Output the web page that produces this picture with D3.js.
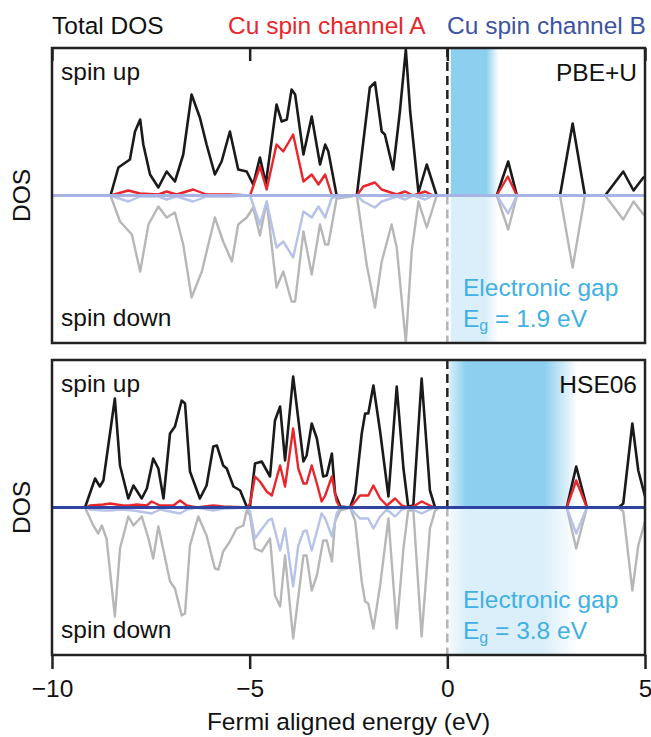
<!DOCTYPE html>
<html>
<head>
<meta charset="utf-8">
<script src="https://cdnjs.cloudflare.com/ajax/libs/d3/7.8.5/d3.min.js"></script>
<style>
body { margin: 0; background: #fff; }
svg text { font-family: "Liberation Sans", Arial, sans-serif; font-size: 24.5px; fill: #111; }
</style>
</head>
<body>
<svg id="chart" width="651" height="737"></svg>
<script>
// energy axis + labels
const energyTicks = [-10, -5, 0, 5]
const legendLabels = ["Total DOS", "Cu spin channel A", "Cu spin channel B"]
const methods = ["PBE+U", "HSE06"]
const gapValues = ["1.9", "3.8"]
const gapBands = [[0.08, 1.3], [0.05, 3.3]]

// PBE+U, [energy (eV), DOS]
const totUp1 = [[-10,0],[-8.52,0],[-8.32,2.8],[-8.03,3.6],[-7.90,6.4],[-7.77,7.6],[-7.69,5.1],[-7.52,2.1],[-7.31,0.8],[-7.10,2.4],[-6.89,1.4],[-6.68,4.1],[-6.47,10.1],[-6.26,7.8],[-6.09,5.1],[-5.88,2.1],[-5.71,3.4],[-5.50,6.4],[-5.29,2.6],[-5.075,2.4],[-4.91,1.1],[-4.74,3.8],[-4.59,1.2],[-4.32,9.1],[-4.19,7.4],[-4.06,7.6],[-3.94,10.6],[-3.85,10.1],[-3.64,4.1],[-3.43,7.9],[-3.22,3.1],[-3.09,5.1],[-3.01,4.4],[-2.80,0],[-2.29,0],[-1.96,10.8],[-1.83,11.3],[-1.66,6.4],[-1.58,6.1],[-1.37,2.6],[-1.20,8.4],[-1.05,14.6],[-0.94,8.4],[-0.73,0.3],[-0.52,3.1],[-0.27,0],[1.25,0],[1.54,3.4],[1.76,0],[2.85,0],[3.17,7.2],[3.48,0],[3.99,0],[4.45,2.4],[4.71,0.5],[4.96,1.8],[5,1.9]]
const cuA1 = [[-10,0],[-8.52,0],[-8.07,0.5],[-7.77,0.2],[-7.31,0.1],[-7.10,0.4],[-6.85,0.1],[-6.43,0.6],[-6.09,0.1],[-5.50,0.1],[-4.99,0],[-4.74,2.9],[-4.57,0.6],[-4.32,5.1],[-4.15,4.4],[-3.90,6.1],[-3.64,1.4],[-3.43,2.1],[-3.26,1.1],[-3.09,2.1],[-2.92,0],[-2.29,0],[-2.125,0.9],[-1.83,1.3],[-1.66,0.6],[-1.28,0.1],[-1.07,0.4],[-0.86,0],[-0.56,0.4],[-0.36,0],[1.25,0],[1.53,1.9],[1.76,0],[5,0]]
const totDn1 = [[-10,0],[-8.52,0],[-8.28,-2.6],[-7.98,-3.9],[-7.77,-7.6],[-7.56,-2.9],[-7.31,-1.1],[-7.10,-2.2],[-6.89,-1.7],[-6.68,-4.9],[-6.47,-10.2],[-6.21,-7.6],[-5.88,-2.2],[-5.67,-4.6],[-5.45,-6.6],[-5.29,-2.9],[-5.075,-2.2],[-4.91,-1.2],[-4.74,-4.0],[-4.57,-0.6],[-4.32,-9.2],[-4.15,-7.6],[-3.94,-10.6],[-3.85,-10.6],[-3.64,-3.6],[-3.43,-7.9],[-3.22,-2.9],[-3.09,-4.9],[-3.01,-4.9],[-2.80,-0.3],[-2.29,0],[-2.04,-6.9],[-1.83,-11.2],[-1.66,-6.6],[-1.41,-2.9],[-1.28,-5.2],[-1.05,-14.7],[-0.90,-5.5],[-0.73,-0.6],[-0.52,-3.2],[-0.27,0],[1.25,0],[1.54,-3.4],[1.76,0],[2.85,0],[3.17,-7.2],[3.48,0],[3.99,0],[4.45,-2.4],[4.71,-0.6],[4.96,-1.9],[5,-1.9]]
const cuB1 = [[-10,0],[-8.52,0],[-8.07,-0.6],[-7.77,-0.1],[-7.31,-0.1],[-7.10,-0.4],[-6.85,-0.1],[-6.43,-0.6],[-6.09,-0.1],[-5.50,-0.1],[-4.99,0],[-4.74,-2.9],[-4.57,-0.6],[-4.32,-5.2],[-4.15,-4.6],[-3.90,-6.2],[-3.64,-1.6],[-3.43,-2.2],[-3.26,-1.1],[-3.09,-2.2],[-2.92,-0.2],[-2.29,0],[-2.125,-0.6],[-1.83,-1.2],[-1.66,-0.6],[-1.28,-0.1],[-1.07,-0.4],[-0.86,0],[-0.56,-0.4],[-0.36,0],[1.25,0],[1.54,-1.8],[1.76,0],[5,0]]

// HSE06
const totUp2 = [[-10,0],[-9.165,0],[-8.91,2.9],[-8.79,2.1],[-8.70,2.7],[-8.41,10.9],[-8.28,4.2],[-8.07,0.9],[-7.94,2.2],[-7.73,0.9],[-7.60,1.9],[-7.44,4.9],[-7.31,3.9],[-7.18,0.9],[-7.015,7.4],[-6.89,8.1],[-6.72,10.7],[-6.635,10.4],[-6.51,3.6],[-6.26,0.9],[-6.09,2.2],[-5.92,6.1],[-5.83,6.2],[-5.67,4.2],[-5.58,3.9],[-5.41,2.1],[-5.24,1.7],[-5.075,0.1],[-4.99,0.2],[-4.865,4.4],[-4.695,4.6],[-4.485,3.1],[-4.36,8.7],[-4.23,10.1],[-4.105,4.7],[-3.90,13.1],[-3.64,4.6],[-3.56,5.2],[-3.43,8.4],[-3.30,6.9],[-3.14,3.1],[-3.05,3.2],[-2.92,5.4],[-2.84,1.4],[-2.71,0.1],[-2.46,0],[-2.33,1.4],[-2.165,7.4],[-2.08,9.4],[-2.00,9.4],[-1.87,12.2],[-1.70,7.6],[-1.49,1.1],[-1.28,12.1],[-1.11,3.9],[-0.99,0.1],[-0.86,0.2],[-0.65,12.9],[-0.44,1.7],[-0.31,0],[3.02,0],[3.26,4.1],[3.53,0],[4.33,0],[4.45,0.4],[4.68,8.4],[4.83,3.7],[5,1.1]]
const cuA2 = [[-10,0],[-9.165,0],[-9.04,0.2],[-8.70,0.3],[-8.53,0.4],[-8.20,0.2],[-8.03,0.2],[-7.86,0.3],[-7.60,0.2],[-7.48,0.6],[-7.27,0.2],[-6.93,0.2],[-6.76,0.7],[-6.59,0.2],[-6.34,0],[-5.92,0.2],[-5.67,0.1],[-5.075,0],[-4.99,0.4],[-4.865,3.1],[-4.74,2.6],[-4.57,1.6],[-4.44,1.2],[-4.23,4.2],[-4.105,2.1],[-3.90,7.9],[-3.77,3.9],[-3.64,2.4],[-3.56,2.4],[-3.43,4.2],[-3.30,2.4],[-3.18,0.6],[-3.09,1.2],[-2.92,3.1],[-2.80,0.6],[-2.71,0],[-2.46,0],[-2.33,0.6],[-2.21,1.2],[-2.00,1.2],[-1.87,2.2],[-1.70,0.9],[-1.53,0.2],[-1.32,0.9],[-1.15,0.2],[-0.99,0],[-0.86,0.1],[-0.65,0.6],[-0.44,0.2],[-0.31,0],[3.02,0],[3.26,2.7],[3.53,0],[5,0]]
const totDn2 = [[-10,0],[-9.165,0],[-8.955,-1.8],[-8.83,-2.6],[-8.74,-1.8],[-8.62,-3.1],[-8.41,-10.9],[-8.28,-4.1],[-8.07,-0.9],[-7.94,-1.8],[-7.73,-0.9],[-7.56,-3.1],[-7.44,-5.1],[-7.31,-1.9],[-7.18,-4.3],[-7.015,-7.4],[-6.89,-8.1],[-6.72,-10.8],[-6.635,-10.6],[-6.51,-3.8],[-6.30,-0.9],[-6.09,-2.8],[-5.88,-6.1],[-5.79,-6.2],[-5.67,-4.4],[-5.50,-3.4],[-5.33,-2.1],[-5.16,-1.8],[-5.075,-0.3],[-4.99,-0.8],[-4.865,-4.1],[-4.695,-4.4],[-4.485,-3.1],[-4.36,-8.8],[-4.23,-9.9],[-4.105,-4.8],[-3.90,-13.1],[-3.64,-4.8],[-3.56,-4.8],[-3.43,-8.3],[-3.30,-6.8],[-3.14,-3.3],[-3.05,-3.3],[-2.92,-5.4],[-2.84,-1.4],[-2.71,-0.3],[-2.46,0],[-2.33,-1.4],[-2.165,-7.4],[-2.08,-9.4],[-2.00,-9.6],[-1.87,-12.1],[-1.70,-7.8],[-1.49,-1.1],[-1.28,-12.1],[-1.11,-4.1],[-0.99,-0.3],[-0.86,-0.3],[-0.65,-12.9],[-0.44,-2.1],[-0.31,-0.3],[-0.2,0],[3.02,0],[3.26,-4.1],[3.53,0],[4.33,0],[4.45,-0.4],[4.68,-8.3],[4.83,-3.8],[5,-1.4]]
const cuB2 = [[-10,0],[-9.165,0],[-9.04,-0.2],[-8.70,-0.3],[-8.53,-0.3],[-8.28,-0.2],[-7.94,-0.3],[-7.48,-0.6],[-7.27,-0.2],[-6.76,-0.6],[-6.59,-0.2],[-6.34,0],[-5.92,-0.3],[-5.67,-0.1],[-5.075,0],[-4.99,-0.4],[-4.865,-3.1],[-4.74,-2.4],[-4.53,-1.3],[-4.44,-1.1],[-4.23,-4.3],[-4.105,-2.1],[-3.90,-7.9],[-3.77,-3.8],[-3.64,-2.4],[-3.56,-2.3],[-3.43,-4.3],[-3.30,-2.4],[-3.18,-0.6],[-3.09,-1.1],[-2.92,-2.9],[-2.80,-0.6],[-2.71,0],[-2.46,0],[-2.33,-0.6],[-2.21,-1.1],[-2.00,-1.1],[-1.87,-2.1],[-1.70,-0.9],[-1.53,-0.2],[-1.32,-0.9],[-1.15,-0.2],[-0.99,0],[-0.65,-0.6],[-0.44,-0.2],[-0.31,0],[3.02,0],[3.26,-2.6],[3.53,0],[5,0]]

const panels = [
    {method: methods[0], gap: gapValues[0], band: gapBands[0], up: totUp1, a: cuA1, dn: totDn1, b: cuB1, base: "#a7b3e2", fadeIn: 0.02},
    {method: methods[1], gap: gapValues[1], band: gapBands[1], up: totUp2, a: cuA2, dn: totDn2, b: cuB2, base: "#2f44a0", fadeIn: 0.13}
]

const left = 52, right = 645, h = 295
const tops = [48, 360]
const svg = d3.select("#chart")
const defs = svg.append("defs")

const xscale = d3.scaleLinear().domain([-10, 5]).range([left, right])

// legend
const legendX = [52, 228, 447]
const legendColors = ["#111", "#e8262b", "#3c53a4"]
svg.selectAll("text.legend")
    .data(legendLabels)
    .join("text")
    .attr("class", "legend")
    .attr("x", (d, i) => legendX[i])
    .attr("y", 34)
    .style("fill", (d, i) => legendColors[i])
    .text(d => d)

const makeGradient = (id, color, fadeIn) => {
    let g = defs.append("linearGradient").attr("id", id)
    g.append("stop").attr("offset", 0).attr("stop-color", color).attr("stop-opacity", 0.35)
    g.append("stop").attr("offset", fadeIn).attr("stop-color", color).attr("stop-opacity", 1)
    g.append("stop").attr("offset", 0.74).attr("stop-color", color).attr("stop-opacity", 1)
    g.append("stop").attr("offset", 1).attr("stop-color", color).attr("stop-opacity", 0)
}

panels.forEach((p, i) => {
    let top = tops[i]
    let yscale = d3.scaleLinear().domain([-14.75, 14.75]).range([top + h, top])
    let g = svg.append("g")

    defs.append("clipPath").attr("id", `clip${i}`)
        .append("rect").attr("x", left).attr("y", top).attr("width", right - left).attr("height", h)

    makeGradient(`gapUp${i}`, "#8dcfee", p.fadeIn)
    makeGradient(`gapDn${i}`, "#dbeffa", p.fadeIn)

    // gap shading
    g.append("rect")
        .attr("x", xscale(p.band[0])).attr("width", xscale(p.band[1]) - xscale(p.band[0]))
        .attr("y", top).attr("height", yscale(0) - top)
        .attr("fill", `url(#gapUp${i})`)
    g.append("rect")
        .attr("x", xscale(p.band[0])).attr("width", xscale(p.band[1]) - xscale(p.band[0]))
        .attr("y", yscale(0)).attr("height", top + h - yscale(0))
        .attr("fill", `url(#gapDn${i})`)

    // fermi level
    g.append("line")
        .attr("x1", xscale(0)).attr("x2", xscale(0))
        .attr("y1", top).attr("y2", yscale(0))
        .attr("stroke", "#222").attr("stroke-width", 2.5).attr("stroke-dasharray", "9,5")
    g.append("line")
        .attr("x1", xscale(0)).attr("x2", xscale(0))
        .attr("y1", yscale(0)).attr("y2", top + h)
        .attr("stroke", "#b5b5b5").attr("stroke-width", 2.5).attr("stroke-dasharray", "9,5")

    let line = d3.line().x(d => xscale(d[0])).y(d => yscale(d[1]))
    let curves = g.append("g").attr("clip-path", `url(#clip${i})`)
    let series = [[p.dn, "#b7b7b7", 2.4], [p.b, "#b6c2e8", 2.4], [p.up, "#1a1a1a", 2.6], [p.a, "#e8262b", 2.4]]
    series.forEach(s => {
        curves.append("path")
            .datum(s[0])
            .attr("d", line)
            .attr("fill", "none")
            .attr("stroke", s[1])
            .attr("stroke-width", s[2])
            .attr("stroke-linejoin", "round")
    })

    curves.append("line")
        .attr("x1", left).attr("x2", right)
        .attr("y1", yscale(0)).attr("y2", yscale(0))
        .attr("stroke", p.base).attr("stroke-width", 2.8)

    // frame
    g.append("rect")
        .attr("x", left).attr("y", top).attr("width", right - left).attr("height", h)
        .attr("fill", "none").attr("stroke", "#222").attr("stroke-width", 2.5)

    // labels
    g.append("text").attr("x", 61).attr("y", top + 32).text("spin up")
    g.append("text").attr("x", 61).attr("y", top + 278).text("spin down")
    g.append("text").attr("x", 637).attr("y", top + 33).attr("text-anchor", "end").text(p.method)
    g.append("text").attr("x", 463).attr("y", top + 248).style("fill", "#41b0e4").text("Electronic gap")
    let eg = g.append("text").attr("x", 463).attr("y", top + 279).style("fill", "#41b0e4")
    eg.append("tspan").text("E")
    eg.append("tspan").attr("dy", 4).style("font-size", "16px").text("g")
    eg.append("tspan").attr("dy", -4).text(` = ${p.gap} eV`)

    g.append("text")
        .attr("transform", `translate(30, ${top + h / 2}) rotate(-90)`)
        .attr("text-anchor", "middle")
        .text("DOS")
})

// top inward ticks on first panel
svg.append("g")
    .attr("transform", `translate(0, ${tops[0]})`)
    .call(d3.axisBottom(xscale).tickValues(energyTicks).tickSize(13).tickFormat(""))
    .call(a => a.select(".domain").remove())
    .call(a => a.selectAll("line").attr("stroke", "#222").attr("stroke-width", 2.5))

// bottom axis
let axisX = svg.append("g")
    .attr("class", "x axis")
    .attr("transform", `translate(0, ${tops[1] + h})`)
    .call(d3.axisBottom(xscale).tickValues(energyTicks).tickSize(14).tickPadding(11).tickFormat(d3.format("")))
axisX.select(".domain").remove()
axisX.selectAll("line").attr("stroke", "#222").attr("stroke-width", 2.5)
axisX.selectAll("text").style("font-size", "24.5px").style("font-family", "Liberation Sans, Arial, sans-serif").attr("fill", "#111")

svg.append("text")
    .attr("x", (left + right) / 2)
    .attr("y", 730)
    .attr("text-anchor", "middle")
    .text("Fermi aligned energy (eV)")
</script>
</body>
</html>
